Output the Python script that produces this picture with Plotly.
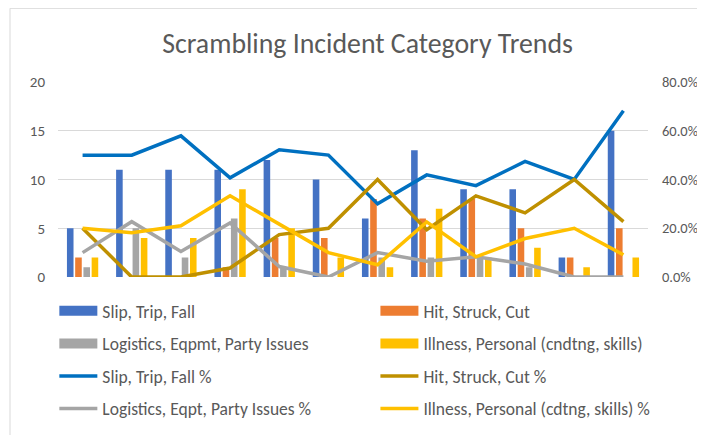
import plotly.graph_objects as go

periods = [str(i) for i in range(1, 13)]

slip_counts = [5, 11, 11, 11, 12, 10, 6, 13, 9, 9, 2, 15]
hit_counts = [2, 0, 0, 1, 4, 4, 8, 6, 8, 5, 2, 5]
logistics_counts = [1, 5, 2, 6, 1, 0, 2, 2, 2, 1, 0, 0]
illness_counts = [2, 4, 4, 9, 5, 2, 1, 7, 2, 3, 1, 2]

slip_pct = [0.50, 0.50, 0.579, 0.407, 0.522, 0.50, 0.30, 0.419, 0.375, 0.474, 0.40, 0.682]
hit_pct = [0.20, 0.0, 0.0, 0.037, 0.174, 0.20, 0.40, 0.194, 0.333, 0.263, 0.40, 0.227]
logistics_pct = [0.10, 0.227, 0.105, 0.222, 0.043, 0.0, 0.10, 0.065, 0.083, 0.053, 0.0, 0.0]
illness_pct = [0.20, 0.182, 0.21, 0.333, 0.217, 0.10, 0.05, 0.226, 0.083, 0.158, 0.20, 0.091]

left_ticks = [0, 5, 10, 15, 20]
right_ticks = [0.0, 0.2, 0.4, 0.6, 0.8]

FONT = "Carlito, Calibri, Lato, sans-serif"
TXT = "#595959"
GRID = "#D9D9D9"

fig = go.Figure()

bars = [
    ("Slip, Trip, Fall", slip_counts, "#4472C4", "legend", "g1"),
    ("Hit, Struck, Cut", hit_counts, "#ED7D31", "legend2", "g2"),
    ("Logistics, Eqpmt, Party Issues", logistics_counts, "#A5A5A5", "legend", "g3"),
    ("Illness, Personal (cndtng, skills)", illness_counts, "#FFC000", "legend2", "g4"),
]
# bars drawn from the data; their legend keys are drawn as wide swatches
for name, vals, col, leg, grp in bars:
    fig.add_trace(go.Bar(x=periods, y=vals, name=name, marker_color=col,
                         marker_line_width=0, legend=leg, legendgroup=grp,
                         showlegend=False, yaxis="y"))
for name, vals, col, leg, grp in bars:
    fig.add_trace(go.Scatter(x=[None], y=[None], name=name, mode="lines",
                             line=dict(color=col, width=10), legend=leg,
                             legendgroup=grp, hoverinfo="skip"))

lines = [
    ("Slip, Trip, Fall %", slip_pct, "#0070C0", "legend", "g5"),
    ("Hit, Struck, Cut %", hit_pct, "#BF9000", "legend2", "g6"),
    ("Logistics, Eqpt, Party Issues %", logistics_pct, "#A5A5A5", "legend", "g7"),
    ("Illness, Personal (cdtng, skills) %", illness_pct, "#FFC000", "legend2", "g8"),
]
for name, vals, col, leg, grp in lines:
    fig.add_trace(go.Scatter(x=periods, y=vals, name=name, mode="lines",
                             line=dict(color=col, width=3.5), legend=leg,
                             legendgroup=grp, yaxis="y2"))

legend_common = dict(orientation="v", yanchor="top", xanchor="left",
                     font=dict(family=FONT, size=17.5, color=TXT),
                     tracegroupgap=6.8, itemwidth=38, bgcolor="rgba(0,0,0,0)",
                     traceorder="grouped")

fig.update_layout(
    width=705, height=435,
    margin=dict(l=50, r=65, t=74, b=166, autoexpand=False),
    paper_bgcolor="white", plot_bgcolor="white",
    title=dict(text="Scrambling Incident Category Trends", xref="container",
               x=0.51, xanchor="center", y=0.9195, yanchor="middle",
               font=dict(family=FONT, size=27.8, color=TXT)),
    barmode="group", bargap=0.33, bargroupgap=0.2,
    showlegend=True,
    legend=dict(x=-0.0062, y=-0.082, **legend_common),
    legend2=dict(x=0.538, y=-0.082, **legend_common),
    xaxis=dict(showticklabels=False, showgrid=False, zeroline=False,
               showline=False, ticks=""),
    yaxis=dict(range=[0, 20], tickvals=left_ticks, showgrid=True, gridcolor=GRID,
               gridwidth=1, zeroline=False, showline=False,
               tickfont=dict(family=FONT, size=15, color=TXT),
               ticks="", ticklabelstandoff=12, automargin=False),
    yaxis2=dict(range=[0, 0.8], tickvals=right_ticks, tickformat=".1%",
                overlaying="y", side="right", showgrid=False, zeroline=False,
                showline=False, tickfont=dict(family=FONT, size=14.5, color=TXT),
                ticks="", ticklabelstandoff=13, automargin=False),
    shapes=[dict(type="rect", xref="paper", yref="paper",
                 x0=(10 - 58) / 590, x1=(720 - 58) / 590,
                 y0=(276.7 - 450) / 195, y1=(276.7 - 8) / 195,
                 line=dict(color=GRID, width=1), fillcolor="rgba(0,0,0,0)",
                 layer="below")],
)

fig.write_html("out.html")
